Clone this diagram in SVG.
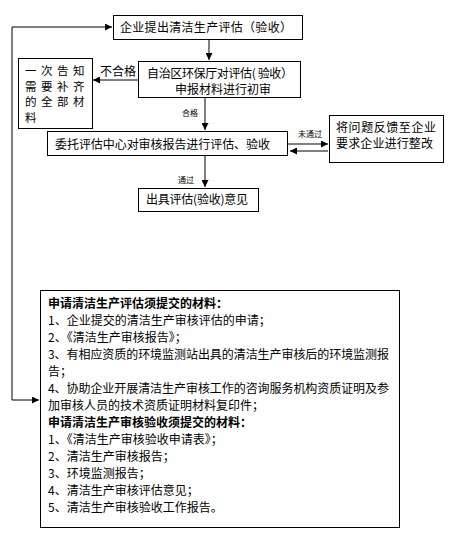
<svg xmlns="http://www.w3.org/2000/svg" width="454" height="539" viewBox="0 0 454 539">
<style>
.box{fill:#fff;stroke:#000;stroke-width:1}
text{font-family:"Noto Sans CJK SC","Liberation Sans",sans-serif;font-size:12px;fill:#000}
.lbl{font-size:8px}
.b{font-weight:bold}
.sm{font-size:11.5px}
.ln{fill:none;stroke:#000;stroke-width:1}
</style>
<defs>
<marker id="ah" viewBox="0 0 8 8" refX="8" refY="4" markerWidth="7" markerHeight="7" markerUnits="userSpaceOnUse" orient="auto">
<path d="M0,0 L8,4 L0,8 z" fill="#000"/>
</marker>
</defs>
<rect width="454" height="539" fill="#fff"/>
<g id="connectors">
<path class="ln" d="M12,27 H112" marker-end="url(#ah)"/>
<path class="ln" d="M12,27 V400 H39" marker-end="url(#ah)"/>
<path class="ln" d="M209,39 V60" marker-end="url(#ah)"/>
<path class="ln" d="M138,80 H93" marker-end="url(#ah)"/>
<text x="100" y="76">不合格</text>
<path class="ln" d="M205,97 V130" marker-end="url(#ah)"/>
<text class="lbl" x="182" y="116" fill="#223">合格</text>
<path d="M287,144 H328" stroke="#808080" stroke-width="2" fill="none" marker-end="url(#ah)"/>
<text class="lbl" x="298" y="137">未通过</text>
<path class="ln" d="M328,151 H290" marker-end="url(#ah)"/>
<path class="ln" d="M205,155 V187" marker-end="url(#ah)"/>
<text class="lbl" x="178" y="183">通过</text>
</g>
<g id="n1">
<rect class="box" x="113.5" y="15.5" width="189" height="24"/>
<text x="120" y="31.5" textLength="172">企业提出清洁生产评估（验收）</text>
</g>
<g id="n2">
<rect class="box" x="138.5" y="61.5" width="162" height="36"/>
<text x="147" y="77.5" textLength="146">自治区环保厅对评估( 验收）</text>
<text x="175" y="93.5">申报材料进行初审</text>
</g>
<g id="n3">
<rect class="box" x="18.5" y="58.5" width="74" height="70"/>
<text class="sm" x="25 41 57 73" y="75">一次告知</text>
<text class="sm" x="25 41 57 73" y="90.5">需要补齐</text>
<text class="sm" x="25 41 57 73" y="106">的全部材</text>
<text class="sm" x="25" y="121.5">料</text>
</g>
<g id="n4">
<rect class="box" x="47.5" y="131.5" width="240" height="24"/>
<text x="55" y="148.5" textLength="215">委托评估中心对审核报告进行评估、验收</text>
</g>
<g id="n5">
<rect class="box" x="329.5" y="115.5" width="114" height="47"/>
<text x="336" y="131.5" textLength="100">将问题反馈至企业</text>
<text x="336" y="147.5" textLength="97">要求企业进行整改</text>
</g>
<g id="n6">
<rect class="box" x="138.5" y="188.5" width="120" height="23"/>
<text x="146" y="203.5" textLength="102">出具评估(验收)意见</text>
</g>
<g id="n7">
<rect class="box" x="40.5" y="290.5" width="359" height="237"/>
<text class="b" x="48" y="307.5">申请清洁生产评估须提交的材料：</text>
<text x="48" y="324.5">1、企业提交的清洁生产审核评估的申请；</text>
<text x="48" y="341.5">2、《清洁生产审核报告》；</text>
<text x="48" y="358.5" textLength="341">3、有相应资质的环境监测站出具的清洁生产审核后的环境监测报</text>
<text x="48" y="375.5">告；</text>
<text x="48" y="392.5" textLength="341">4、协助企业开展清洁生产审核工作的咨询服务机构资质证明及参</text>
<text x="48" y="409.5">加审核人员的技术资质证明材料复印件；</text>
<text class="b" x="48" y="426.5">申请清洁生产审核验收须提交的材料：</text>
<text x="48" y="443.5">1、《清洁生产审核验收申请表》；</text>
<text x="48" y="460.5">2、清洁生产审核报告；</text>
<text x="48" y="477.5">3、环境监测报告；</text>
<text x="48" y="494.5">4、清洁生产审核评估意见；</text>
<text x="48" y="511.5">5、清洁生产审核验收工作报告。</text>
</g>
</svg>
